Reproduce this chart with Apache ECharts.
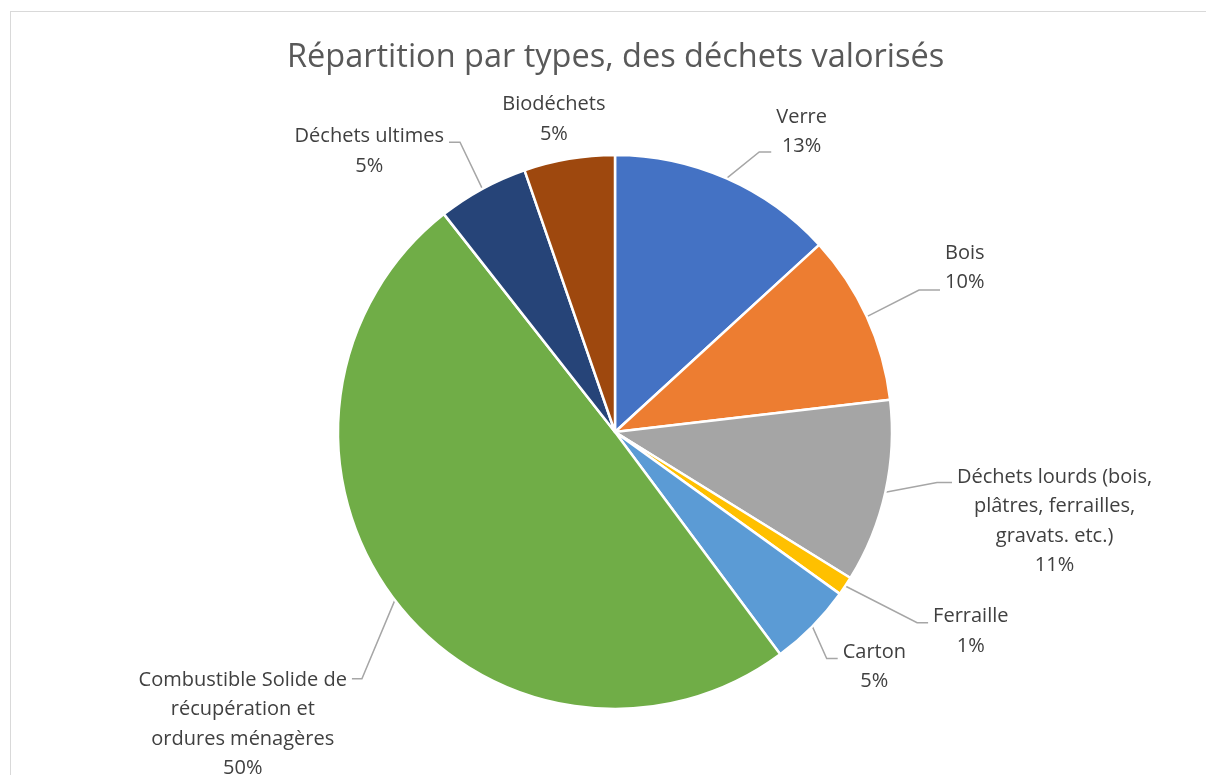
<!DOCTYPE html>
<html>
<head>
<meta charset="utf-8">
<script src="https://cdn.jsdelivr.net/npm/echarts@6/dist/echarts.min.js"></script>
<style>
    html, body { margin: 0; padding: 0; background: #fff; overflow: hidden; }
    #frame {
        position: absolute; left: 10px; top: 11px; width: 1300px; height: 900px;
        border: 1px solid #d9d9d9; box-sizing: border-box;
    }
    #container { position: absolute; left: 0; top: 0; width: 1206px; height: 775px; }
</style>
</head>
<body>
<div id="frame"></div>
<div id="container"></div>
<script>
    // données
    var categories = ['Verre', 'Bois', 'Déchets lourds (bois,\nplâtres, ferrailles,\ngravats. etc.)', 'Ferraille',
        'Carton', 'Combustible Solide de\nrécupération et\nordures ménagères', 'Déchets ultimes', 'Biodéchets'];
    var values = [13.2, 9.95, 10.7, 1.1, 4.9, 49.6, 5.3, 5.3];
    var colors = ['#4472C4', '#ED7D31', '#A5A5A5', '#FFC000', '#5B9BD5', '#70AD47', '#264478', '#9E480E'];

    // réglage des étiquettes : longueurs des traits, décalage du texte,
    // décalage vertical du point d'attache (dy) et longueur du bout horizontal (h)
    var labelTweaks = [
        { len: 29, len2: 33, pad: [0, 0, 40, 0], line: true, dy: 0, h: 12 },
        { len: 64, len2: 15, pad: [0, 0, 44, 0], line: true, dy: 0, h: 21 },
        { len: 15, len2: 52, pad: [52, 0, 0, 0], line: true, dy: -13, h: 15 },
        { len: 66, len2: 28, pad: [17, 0, 0, 0], line: true, dy: 0, h: 11 },
        { len: 30, len2: 4, pad: [39, 0, 0, 0], line: true, dy: 11, h: 11 },
        { len: 44, len2: 8, pad: [195, 0, 0, 0], line: true, dy: 52, h: 10 },
        { len: 53, len2: 8, pad: [18, 0, 0, 0], line: true, dy: 0, h: 11 },
        { len: 40, len2: -48, pad: [0, 0, 0, 0], line: false, dy: 0, h: 0 }
    ];

    var pieData = categories.map(function (name, i) {
        var t = labelTweaks[i];
        return {
            name: name,
            value: values[i],
            itemStyle: { color: colors[i] },
            label: { padding: t.pad },
            labelLine: { show: t.line, length: t.len, length2: t.len2 }
        };
    });

    var myChart = echarts.init(document.getElementById('container'));
    var option = {
        backgroundColor: 'transparent',
        title: {
            text: 'Répartition par types, des déchets valorisés',
            left: 282,
            top: 36,
            textStyle: { fontFamily: 'Open Sans', fontSize: 32.5, fontWeight: 'normal', color: '#595959' }
        },
        series: [{
            type: 'pie',
            center: [615, 432],
            radius: 277,
            startAngle: 90,
            avoidLabelOverlap: false,
            animation: false,
            itemStyle: { borderColor: '#fff', borderWidth: 2.5 },
            label: {
                show: true,
                position: 'outside',
                color: '#404040',
                fontFamily: 'Open Sans',
                fontSize: 20,
                lineHeight: 29.5,
                formatter: function (p) {
                    var lines = p.name.split('\n');
                    lines.push(Math.round(p.percent) + '%');
                    return lines.map(function (l) { return '{c|' + l + '}'; }).join('\n');
                },
                rich: {
                    c: { align: 'center', color: '#404040', fontFamily: 'Open Sans', fontSize: 20, lineHeight: 29.5 }
                }
            },
            labelLine: {
                lineStyle: { color: '#a6a6a6', width: 1.5 }
            },
            // trait en biais puis court bout horizontal, comme dans Excel
            labelLayout: function (params) {
                var t = labelTweaks[params.dataIndex];
                var pts = params.labelLinePoints;
                if (!pts || !t.line) return {};
                var p0 = pts[0], p2 = pts[2];
                var side = p2[0] >= p0[0] ? 1 : -1;
                var y = p2[1] + t.dy;
                return {
                    labelLinePoints: [p0, [p2[0] - side * t.h, y], [p2[0], y]]
                };
            },
            data: pieData
        }]
    };
    myChart.setOption(option);
</script>
</body>
</html>
